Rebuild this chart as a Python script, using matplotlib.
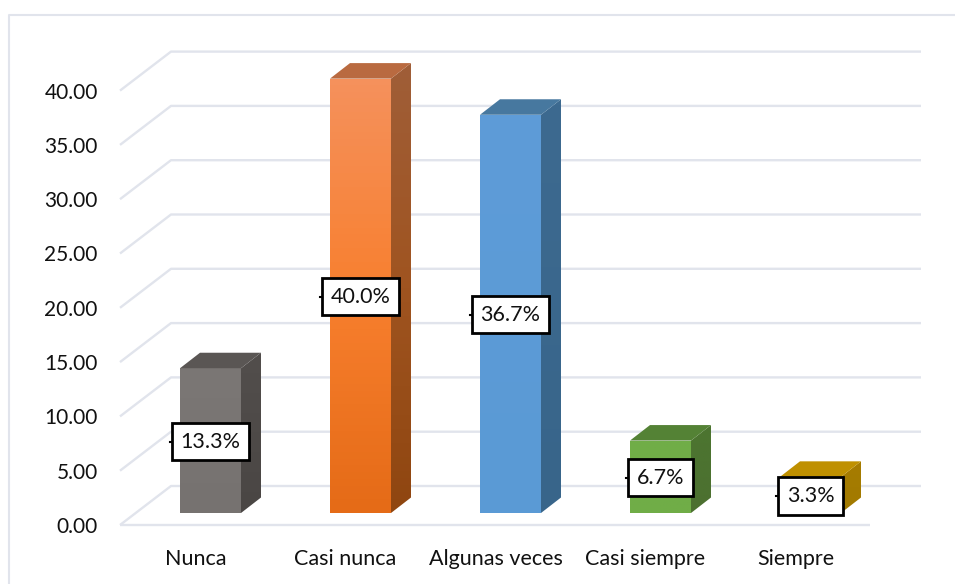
import numpy as np
import matplotlib
matplotlib.use('Agg')
import matplotlib.pyplot as plt
from matplotlib.lines import Line2D
from matplotlib.patches import Polygon
from matplotlib.colors import LinearSegmentedColormap

plt.rcParams['font.family'] = ['Lato', 'DejaVu Sans']

categories = ['Nunca', 'Casi nunca', 'Algunas veces', 'Casi siempre', 'Siempre']
values = [13.33, 40.0, 36.67, 6.67, 3.33]
labels = ['13.3%', '40.0%', '36.7%', '6.7%', '3.3%']
y_ticks = [0, 5, 10, 15, 20, 25, 30, 35, 40]

# front stops, side stops, roof
front_colors = [['#7B7775', '#767270'], ['#F5915C', '#F87F2E', '#E56B17'], ['#5E9CD8', '#5A9AD5'],
                ['#70AD47', '#70AD47'], ['#FFC000', '#FFC000']]
side_colors = [['#524E4C', '#4A4644'], ['#A05E38', '#9F5420', '#8F4610'], ['#3D6A90', '#38658A'],
               ['#4C7530', '#4C7030'], ['#A67C00', '#A27A00']]
roof_colors = ['#5A5654', '#B96A40', '#47789F', '#548235', '#BF9000']

GRID = '#E1E4EC'
W, H = 955, 584
PX_CAT = 150.0      # pixels between categories
PX_VAL = 54.3 / 5   # pixels per unit

# axes box in pixels: front wall edge of the chart
left, right, top, bottom = 120, 921, 40, 525


def dx(px):
    return px / PX_CAT


def dy(px):
    return px / PX_VAL


def gradient_poly(ax, pts, stops):
    """polygon filled with a top to bottom gradient"""
    pts = np.array(pts)
    cmap = LinearSegmentedColormap.from_list('g', stops)
    im = ax.imshow(np.linspace(0, 1, 64).reshape(-1, 1), cmap=cmap, aspect='auto', origin='upper',
                   extent=[pts[:, 0].min(), pts[:, 0].max(), pts[:, 1].min(), pts[:, 1].max()], zorder=3)
    clip = Polygon(pts, closed=True, transform=ax.transData, fc='none', ec='none')
    ax.add_patch(clip)
    im.set_clip_path(clip)


fig = plt.figure(figsize=(W / 100, H / 100), dpi=100)
fig.patch.set_facecolor('white')

# chart frame, only top and left show in the picture
fig.add_artist(Line2D([9 / W, 9 / W, 1], [0, 1 - 15 / H, 1 - 15 / H], color=GRID, lw=1.5))

ax = fig.add_axes([left / W, 1 - bottom / H, (right - left) / W, (bottom - top) / H])
x0 = (210.5 - left) / PX_CAT
xlim = (-x0, (right - left) / PX_CAT - x0)
ax.set_xlim(xlim)
ax.set_ylim(0, (bottom - top) / PX_VAL)
for s in ax.spines.values():
    s.set_visible(False)

# floor and back wall
wall_x, wall_y = dx(51), dy(39)
floor_right = xlim[1] - wall_x
for t in y_ticks:
    xs = [xlim[0], xlim[0] + wall_x, xlim[1]]
    ys = [t, t + wall_y, t + wall_y]
    ax.plot(xs, ys, color=GRID, lw=1.7, zorder=1, clip_on=False, solid_capstyle='butt')
ax.plot([xlim[0], floor_right], [0, 0], color=GRID, lw=1.7, zorder=1, solid_capstyle='butt', clip_on=False)

# bars
base = dy(12)
half = dx(61) / 2
depth_x, depth_y = dx(20), dy(15.5)
texts = []
for i, v in enumerate(values):
    l, r, b, t = i - half, i + half, base, base + v
    gradient_poly(ax, [(l, b), (r, b), (r, t), (l, t)], front_colors[i])
    gradient_poly(ax, [(r, b), (r + depth_x, b + depth_y), (r + depth_x, t + depth_y), (r, t)], side_colors[i])
    ax.add_patch(Polygon([(l, t), (r, t), (r + depth_x, t + depth_y), (l + depth_x, t + depth_y)],
                         closed=True, fc=roof_colors[i], ec='none', zorder=3))
    texts.append(ax.text(i, base + v / 2 - dy(1), labels[i], ha='center', va='center', fontsize=15.5,
                         color='#111111', zorder=5,
                         bbox=dict(boxstyle='square,pad=0.4', fc='white', ec='black', lw=2)))

ax.set_xticks(np.arange(len(categories)) - dx(15))
ax.set_xticklabels(categories, fontsize=15.5, color='#111111')
ax.set_yticks(y_ticks)
ax.set_yticklabels(['%.2f' % t for t in y_ticks], fontsize=15, color='#111111')
ax.tick_params(axis='both', length=0)
ax.tick_params(axis='x', pad=17)
ax.tick_params(axis='y', pad=16)
ax.patch.set_alpha(0)

# small leader stub on the left edge of each label box
fig.canvas.draw()
for txt in texts:
    bb = txt.get_bbox_patch().get_window_extent()
    ax.add_line(Line2D([bb.x0 - 2, bb.x0], [(bb.y0 + bb.y1) / 2] * 2, color='black', lw=1.5,
                       transform=None, zorder=6))

fig.savefig('out.png', dpi=100)
